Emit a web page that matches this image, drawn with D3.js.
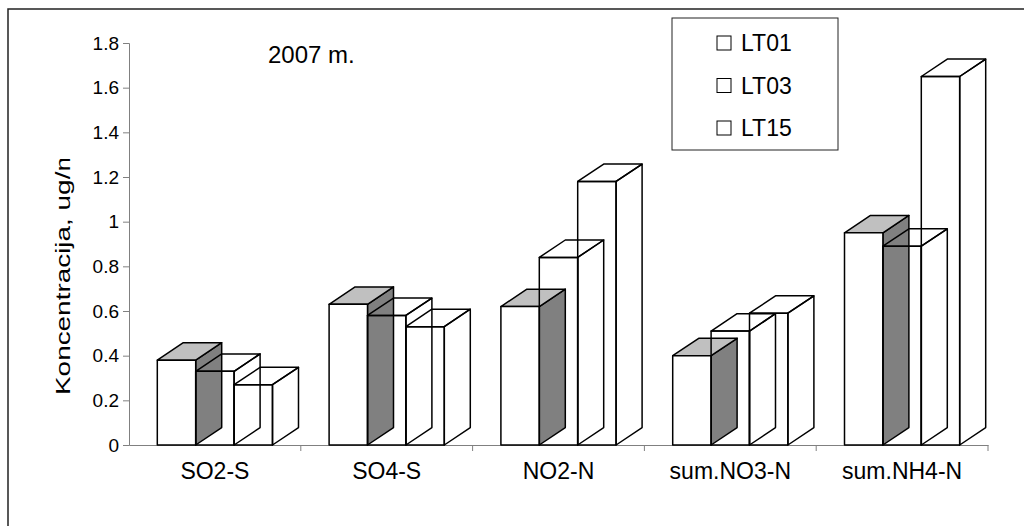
<!DOCTYPE html>
<html>
<head>
<meta charset="utf-8">
<script src="https://cdn.jsdelivr.net/npm/d3@7"></script>
<style>
  html, body { margin: 0; padding: 0; background: #fff; }
  #chart { width: 1024px; height: 526px; }
  text { font-family: "Liberation Sans", Arial, sans-serif; fill: #000; }
</style>
</head>
<body>
<div id="chart"></div>
<script>
// duomenys
const categories = ["SO2-S", "SO4-S", "NO2-N", "sum.NO3-N", "sum.NH4-N"];
const series = ["LT01", "LT03", "LT15"];
const valuesLT01 = [0.38, 0.63, 0.62, 0.40, 0.95];
const valuesLT03 = [0.33, 0.58, 0.84, 0.51, 0.89];
const valuesLT15 = [0.27, 0.53, 1.18, 0.59, 1.65];
const yTicks = [0, 0.2, 0.4, 0.6, 0.8, 1, 1.2, 1.4, 1.6, 1.8];
const yLabel = "Koncentracija, ug/m3";
const title = "2007 m.";

const seriesValues = [valuesLT01, valuesLT03, valuesLT15];

const W = 1024, H = 526;
const svg = d3.select("#chart").append("svg")
  .attr("width", W)
  .attr("height", H);

// rėmelis
svg.append("rect")
  .attr("x", 8).attr("y", 9)
  .attr("width", W + 20).attr("height", H + 20)
  .attr("fill", "#fff")
  .attr("stroke", "#222")
  .attr("stroke-width", 1.5);

const x = d3.scaleBand()
  .domain(categories)
  .range([129, 988])
  .padding(0);

const y = d3.scaleLinear()
  .domain([0, 1.8])
  .range([445, 43]);

const bw = x.bandwidth() * 0.2235;
const xs = d3.scaleBand()
  .domain(series)
  .range([0, bw * 3]);
const offset = (x.bandwidth() - bw * 3) / 2;
const dx = 26, dy = 17.4;

// ašys
const yAxis = svg.append("g")
  .attr("transform", "translate(129,0)")
  .call(d3.axisLeft(y).tickValues(yTicks).tickSize(6).tickPadding(4)
    .tickFormat(d => String(+d.toFixed(1))));
yAxis.select(".domain").attr("stroke", "#808080");
yAxis.selectAll(".tick line").attr("stroke", "#808080");
yAxis.selectAll(".tick text")
  .style("font-size", "19px")
  .attr("fill", "#000");

const xAxis = svg.append("g")
  .attr("transform", "translate(0,445)")
  .call(d3.axisBottom(x).tickSize(0).tickPadding(18));
xAxis.select(".domain").attr("stroke", "#808080");
xAxis.selectAll(".tick text")
  .style("font-size", "23px")
  .attr("fill", "#000");

// padalos tarp kategorijų
svg.append("g").selectAll("line")
  .data(categories)
  .enter().append("line")
  .attr("x1", d => x(d) + x.bandwidth())
  .attr("x2", d => x(d) + x.bandwidth())
  .attr("y1", 445).attr("y2", 451)
  .attr("stroke", "#808080");

// 3D stulpeliai
const faceFill = [
  { front: "#fff", top: "#c0c0c0", side: "#808080" },
  { front: "none", top: "none", side: "none" },
  { front: "none", top: "none", side: "none" }
];

const bars = svg.append("g");
series.forEach((s, si) => {
  categories.forEach((c, ci) => {
    const v = seriesValues[si][ci];
    const x0 = x(c) + offset + xs(s);
    const x1 = x0 + bw;
    const yt = y(v), yb = y(0);
    const g = bars.append("g")
      .attr("stroke", "#000")
      .attr("stroke-width", 1.5)
      .attr("stroke-linejoin", "round");
    g.append("polygon")
      .attr("points", [[x1, yt], [x1 + dx, yt - dy], [x1 + dx, yb - dy], [x1, yb]].join(" "))
      .attr("fill", faceFill[si].side);
    g.append("polygon")
      .attr("points", [[x0, yt], [x1, yt], [x1 + dx, yt - dy], [x0 + dx, yt - dy]].join(" "))
      .attr("fill", faceFill[si].top);
    g.append("rect")
      .attr("x", x0).attr("y", yt)
      .attr("width", bw).attr("height", yb - yt)
      .attr("fill", faceFill[si].front);
  });
});

// y ašies pavadinimas (ištemptas, viršus nukirptas)
svg.append("clipPath").attr("id", "ylab-clip")
  .append("rect").attr("x", 0).attr("y", 159).attr("width", 120).attr("height", 400);
svg.append("g")
  .attr("clip-path", "url(#ylab-clip)")
  .append("text")
  .attr("transform", "translate(70,395) rotate(-90) scale(1.33,1)")
  .attr("text-anchor", "start")
  .style("font-size", "21px")
  .text(yLabel);

// metai
svg.append("text")
  .attr("x", 268).attr("y", 63)
  .style("font-size", "24px")
  .text(title);

// legenda
const legend = svg.append("g").attr("transform", "translate(672,18)");
legend.append("rect")
  .attr("width", 166).attr("height", 132)
  .attr("fill", "#fff")
  .attr("stroke", "#222")
  .attr("stroke-width", 1);
const items = legend.selectAll(".item")
  .data(series)
  .enter().append("g")
  .attr("class", "item")
  .attr("transform", (d, i) => `translate(0,${25 + i * 42.5})`);
items.append("rect")
  .attr("x", 45).attr("y", -7)
  .attr("width", 14).attr("height", 14)
  .attr("fill", "#fff")
  .attr("stroke", "#000")
  .attr("stroke-width", 1);
items.append("text")
  .attr("x", 69).attr("y", 8)
  .style("font-size", "23px")
  .text(d => d);
</script>
</body>
</html>
